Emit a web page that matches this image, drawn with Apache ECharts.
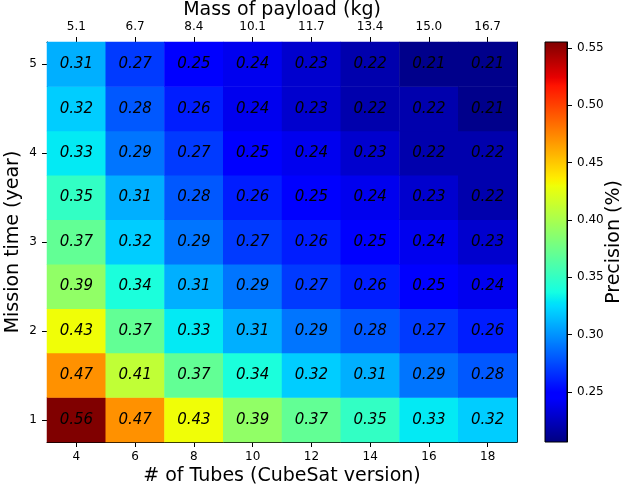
<!DOCTYPE html>
<html>
<head>
<meta charset="utf-8">
<script src="https://cdn.jsdelivr.net/npm/echarts@6/dist/echarts.min.js"></script>
<style>html,body{margin:0;padding:0;background:#fff}#c{width:627px;height:489px}</style>
</head>
<body>
<div id="c"></div>
<script>
// ---- data ----
var tubes = ['4', '6', '8', '10', '12', '14', '16', '18'];
var massLabels = ['5.1', '6.7', '8.4', '10.1', '11.7', '13.4', '15.0', '16.7'];
var years = ['1', '1.5', '2', '2.5', '3', '3.5', '4', '4.5', '5'];
var row1   = [0.56, 0.47, 0.43, 0.39, 0.37, 0.35, 0.33, 0.32];
var row1_5 = [0.47, 0.41, 0.37, 0.34, 0.32, 0.31, 0.29, 0.28];
var row2   = [0.43, 0.37, 0.33, 0.31, 0.29, 0.28, 0.27, 0.26];
var row2_5 = [0.39, 0.34, 0.31, 0.29, 0.27, 0.26, 0.25, 0.24];
var row3   = [0.37, 0.32, 0.29, 0.27, 0.26, 0.25, 0.24, 0.23];
var row3_5 = [0.35, 0.31, 0.28, 0.26, 0.25, 0.24, 0.23, 0.22];
var row4   = [0.33, 0.29, 0.27, 0.25, 0.24, 0.23, 0.22, 0.22];
var row4_5 = [0.32, 0.28, 0.26, 0.24, 0.23, 0.22, 0.22, 0.21];
var row5   = [0.31, 0.27, 0.25, 0.24, 0.23, 0.22, 0.21, 0.21];
var colorbarRange = [0.2064, 0.5552];
var colorbarTicks = [0.25, 0.30, 0.35, 0.40, 0.45, 0.50, 0.55];

var rows = [row1, row1_5, row2, row2_5, row3, row3_5, row4, row4_5, row5];
var heat = [];
rows.forEach(function (r, yi) { r.forEach(function (v, xi) { heat.push([xi, yi, v]); }); });

// jet colormap (matplotlib segment data)
function seg(pts, t) {
  for (var i = 1; i < pts.length; i++) {
    if (t <= pts[i][0]) {
      var a = pts[i - 1], b = pts[i];
      return a[1] + (b[1] - a[1]) * (t - a[0]) / (b[0] - a[0]);
    }
  }
  return pts[pts.length - 1][1];
}
var R = [[0, 0], [0.35, 0], [0.66, 1], [0.89, 1], [1, 0.5]];
var G = [[0, 0], [0.125, 0], [0.375, 1], [0.64, 1], [0.91, 0], [1, 0]];
var B = [[0, 0.5], [0.11, 1], [0.34, 1], [0.65, 0], [1, 0]];
function jet(t) {
  return 'rgb(' + Math.round(seg(R, t) * 255) + ',' + Math.round(seg(G, t) * 255) + ',' + Math.round(seg(B, t) * 255) + ')';
}
var jetColors = [], jetStops = [];
for (var i = 0; i <= 200; i++) {
  jetColors.push(jet(i / 200));
  jetStops.push({ offset: i / 200, color: jet(i / 200) });
}

var FONT = 'DejaVu Sans';
var TITLE = 19;
var TICK = { show: true, length: 5, lineStyle: { color: '#000', width: 1 } };
function tick(extra) { return Object.assign({}, TICK, extra || {}); }
var chart = echarts.init(document.getElementById('c'));
chart.setOption({
  animation: false,
  textStyle: { fontFamily: FONT },
  grid: [
    { left: 47, top: 42, width: 470, height: 400, outerBoundsMode: 'none', containLabel: false },
    { left: 545, top: 42, width: 22, height: 400, outerBoundsMode: 'none', containLabel: false }
  ],
  xAxis: [
    {
      type: 'category', data: tubes, gridIndex: 0, position: 'bottom',
      name: '# of Tubes (CubeSat version)', nameLocation: 'middle', nameGap: 25, nameMoveOverlap: false,
      nameTextStyle: { fontSize: TITLE, color: '#000', fontFamily: FONT },
      axisLine: { show: true, lineStyle: { color: '#000', width: 1 } },
      axisTick: tick({ alignWithLabel: true }),
      axisLabel: { fontSize: 12, color: '#000', margin: 9, fontFamily: FONT },
      splitLine: { show: false }
    },
    {
      type: 'category', data: massLabels, gridIndex: 0, position: 'top',
      name: 'Mass of payload (kg)', nameLocation: 'middle', nameGap: 22, nameMoveOverlap: false,
      nameTextStyle: { fontSize: TITLE, color: '#000', fontFamily: FONT },
      axisLine: { show: true, lineStyle: { color: '#000', width: 1 } },
      axisTick: tick({ alignWithLabel: true }),
      axisLabel: { fontSize: 12, color: '#000', margin: 9, fontFamily: FONT },
      splitLine: { show: false }
    },
    {
      type: 'category', data: ['c'], gridIndex: 1, show: false
    }
  ],
  yAxis: [
    {
      type: 'category', data: years, gridIndex: 0, position: 'left',
      name: 'Mission time (year)', nameLocation: 'middle', nameGap: 24, nameMoveOverlap: false,
      nameTextStyle: { fontSize: TITLE, color: '#000', fontFamily: FONT },
      axisLine: { show: true, lineStyle: { color: '#000', width: 1 } },
      axisTick: tick({ alignWithLabel: true,
        interval: function (idx, val) { return Number(val) % 1 === 0; } }),
      axisLabel: { fontSize: 12, color: '#000', margin: 10, fontFamily: FONT,
        interval: function (idx, val) { return Number(val) % 1 === 0; } },
      splitLine: { show: false }
    },
    {
      type: 'category', data: years, gridIndex: 0, position: 'right',
      axisLine: { show: true, lineStyle: { color: '#000', width: 1 } },
      axisTick: { show: false }, axisLabel: { show: false }, splitLine: { show: false }
    },
    {
      type: 'value', gridIndex: 1, position: 'right',
      min: colorbarRange[0], max: colorbarRange[1],
      name: 'Precision (%)', nameLocation: 'middle', nameGap: 38, nameRotate: 90, nameMoveOverlap: false,
      nameTextStyle: { fontSize: TITLE, color: '#000', fontFamily: FONT },
      axisLine: { show: true, lineStyle: { color: '#000', width: 1 } },
      axisTick: tick({ customValues: colorbarTicks }),
      axisLabel: { fontSize: 12, color: '#000', margin: 10, fontFamily: FONT, customValues: colorbarTicks,
        formatter: function (v) { return v.toFixed(2); } },
      splitLine: { show: false }
    }
  ],
  visualMap: {
    type: 'continuous', show: false, seriesIndex: 0,
    min: colorbarRange[0], max: colorbarRange[1],
    inRange: { color: jetColors }
  },
  series: [
    {
      type: 'heatmap', xAxisIndex: 0, yAxisIndex: 0, data: heat,
      label: {
        show: true, fontSize: 15, fontStyle: 'italic', color: '#000', fontFamily: FONT,
        formatter: function (p) { return p.value[2].toFixed(2); }
      },
      itemStyle: { borderWidth: 0 },
      emphasis: { disabled: true }
    },
    {
      type: 'custom', xAxisIndex: 2, yAxisIndex: 2,
      data: [[0, colorbarRange[0], colorbarRange[1]]],
      renderItem: function (params, api) {
        var p0 = api.coord([api.value(0), api.value(1)]);
        var p1 = api.coord([api.value(0), api.value(2)]);
        var cs = params.coordSys;
        return {
          type: 'rect',
          shape: { x: cs.x, y: p1[1], width: cs.width, height: p0[1] - p1[1] },
          style: { fill: new echarts.graphic.LinearGradient(0, 1, 0, 0, jetStops), stroke: '#000', lineWidth: 1 }
        };
      }
    }
  ]
});
</script>
</body>
</html>
